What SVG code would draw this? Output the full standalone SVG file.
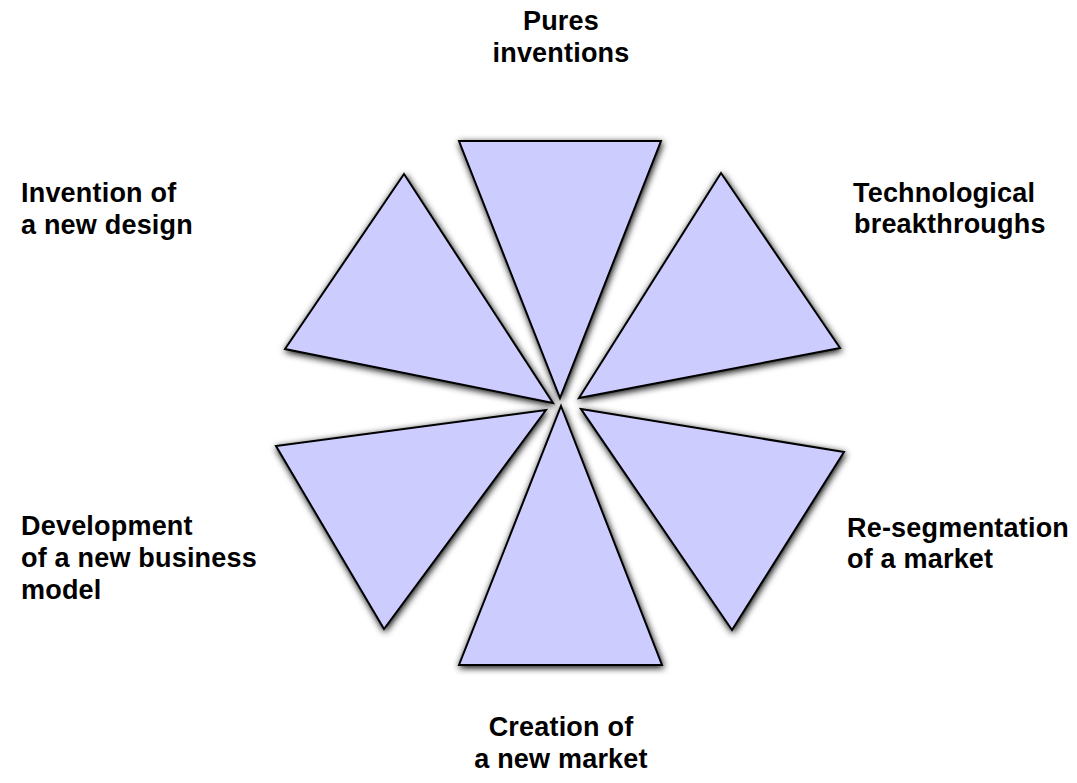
<svg xmlns="http://www.w3.org/2000/svg" width="1077" height="783" viewBox="0 0 1077 783">
  <style>
    .wedge { fill: #CCCCFF; stroke: #000; stroke-width: 2; stroke-linejoin: miter; filter: url(#shade); }
    .lbl { font-family: "Liberation Sans", Arial, Helvetica, sans-serif; font-weight: bold; font-size: 27px; letter-spacing: 0.2px; fill: #000; }
    .mid { text-anchor: middle; }
  </style>
  <defs>
    <!-- soft grey drop shadow under each wedge -->
    <filter id="shade" x="-20%" y="-20%" width="140%" height="140%">
      <feGaussianBlur in="SourceAlpha" stdDeviation="3.5" result="blur"/>
      <feOffset in="blur" dx="1" dy="2" result="off"/>
      <feComponentTransfer in="off" result="dark">
        <feFuncA type="linear" slope="1.3"/>
      </feComponentTransfer>
      <feFlood flood-color="#000" flood-opacity="0.75"/>
      <feComposite in2="dark" operator="in" result="shadow"/>
      <feMerge>
        <feMergeNode in="shadow"/>
        <feMergeNode in="SourceGraphic"/>
      </feMerge>
    </filter>
  </defs>
  <rect width="1077" height="783" fill="#fff"/>

  <g id="wedge-pures-inventions">
    <polygon class="wedge" points="459,141 661,141 560,398"/>
  </g>
  <g id="wedge-technological-breakthroughs">
    <polygon class="wedge" points="721,173 840,348 579,398"/>
  </g>
  <g id="wedge-resegmentation">
    <polygon class="wedge" points="581,409 844,452 732,630"/>
  </g>
  <g id="wedge-new-market">
    <polygon class="wedge" points="561,406 662,665 459,665"/>
  </g>
  <g id="wedge-business-model">
    <polygon class="wedge" points="546,410 384,629 276,446"/>
  </g>
  <g id="wedge-new-design">
    <polygon class="wedge" points="404,174 285,349 553,403"/>
  </g>

  <g id="connectors"></g>

  <g id="label-pures-inventions">
    <text class="lbl mid" x="561" y="30">Pures</text>
    <text class="lbl mid" x="561" y="62">inventions</text>
  </g>
  <g id="label-technological-breakthroughs">
    <text class="lbl" x="853" y="202">Technological</text>
    <text class="lbl" x="854" y="233">breakthroughs</text>
  </g>
  <g id="label-resegmentation">
    <text class="lbl" x="847" y="537">Re-segmentation</text>
    <text class="lbl" x="847" y="568">of a market</text>
  </g>
  <g id="label-new-market">
    <text class="lbl mid" x="561" y="736">Creation of</text>
    <text class="lbl mid" x="561" y="768">a new market</text>
  </g>
  <g id="label-business-model">
    <text class="lbl" x="21" y="535">Development</text>
    <text class="lbl" x="21" y="567">of a new business</text>
    <text class="lbl" x="21" y="599">model</text>
  </g>
  <g id="label-new-design">
    <text class="lbl" x="21" y="202">Invention of</text>
    <text class="lbl" x="21" y="234">a new design</text>
  </g>
</svg>
